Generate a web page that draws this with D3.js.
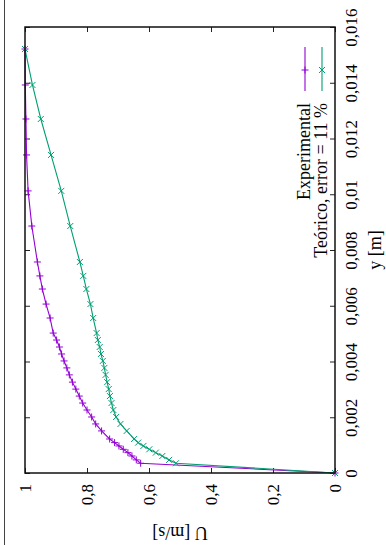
<!DOCTYPE html>
<html><head><meta charset="utf-8">
<script src="https://cdn.jsdelivr.net/npm/d3@7"></script>
<style>html,body{margin:0;padding:0;background:#fff;}svg{display:block;}</style>
</head><body>
<svg id="c" width="386" height="545"></svg>
<script>
// Data (y in metres, U in m/s)
const yVals = [0.01521,0.01392,0.01270,0.01141,0.01012,0.00886,0.00757,0.00707,0.00660,0.00606,0.00556,0.00502,
  0.00477,0.00452,0.00427,0.00402,0.00377,0.00352,0.00326,0.00301,0.00276,0.00251,0.00226,0.00201,0.00176,0.00151,
  0.00122,0.00109,0.00097,0.00085,0.00073,0.00061,0.00047,0.00035,0];
const uExp = [1.0,0.999,0.997,0.995,0.990,0.978,0.960,0.952,0.944,0.932,0.919,0.909,
  0.898,0.889,0.882,0.874,0.865,0.857,0.847,0.836,0.825,0.814,0.800,0.785,0.772,0.753,
  0.727,0.711,0.697,0.683,0.668,0.655,0.641,0.627,0];
const uTeo = [1.0,0.976,0.949,0.916,0.883,0.854,0.823,0.812,0.802,0.789,0.780,0.769,
  0.765,0.759,0.755,0.749,0.744,0.740,0.735,0.730,0.726,0.721,0.715,0.706,0.692,0.672,
  0.648,0.635,0.618,0.599,0.578,0.557,0.535,0.513,0];
const uTicks = [0,0.2,0.4,0.6,0.8,1];
const yTicks = [0,0.002,0.004,0.006,0.008,0.010,0.012,0.014,0.016];
const seriesNames = ["Experimental","Teórico, error = 11 %"];
const colors = ["#9400d3","#009e73"];

const svg = d3.select("#c");
const font = "'Liberation Serif','Times New Roman',serif";
const L=25,R=335,T=27,B=473;
const xU = d3.scaleLinear().domain([0,1]).range([R,L]);
const yY = d3.scaleLinear().domain([0,0.016]).range([B,T]);
const loc = d3.formatLocale({decimal:",",thousands:".",grouping:[3],currency:["",""]});
const fmt = v => v===0 ? "0" : loc.format("~g")(+v.toFixed(4));

// page edge line
svg.append("line").attr("x1",4.5).attr("x2",4.5).attr("y1",0).attr("y2",545)
  .attr("stroke","#444").attr("stroke-width",1);

// axes
function styleAxis(g){ g.select(".domain").remove(); g.selectAll(".tick line").attr("stroke","#222").attr("stroke-width",1); }
const gb = svg.append("g").attr("transform",`translate(0,${B})`)
  .call(d3.axisBottom(xU).tickValues(uTicks).tickSizeInner(-5).tickSizeOuter(0).tickFormat(fmt));
styleAxis(gb);
gb.selectAll(".tick text").attr("transform","rotate(-90)").attr("x",-11).attr("y",0).attr("dy","0.35em")
  .attr("text-anchor","end").attr("font-family",font).attr("font-size",17).attr("fill","#000");
const gt = svg.append("g").attr("transform",`translate(0,${T})`)
  .call(d3.axisTop(xU).tickValues(uTicks).tickSizeInner(-5).tickSizeOuter(0).tickFormat(""));
styleAxis(gt);
const gr = svg.append("g").attr("transform",`translate(${R},0)`)
  .call(d3.axisRight(yY).tickValues(yTicks).tickSizeInner(-5).tickSizeOuter(0).tickFormat(fmt));
styleAxis(gr);
gr.selectAll(".tick text").attr("transform","rotate(-90)").attr("x",0).attr("y",22).attr("dy",0)
  .attr("text-anchor","middle").attr("font-family",font).attr("font-size",17).attr("fill","#000");
const gl = svg.append("g").attr("transform",`translate(${L},0)`)
  .call(d3.axisLeft(yY).tickValues(yTicks).tickSizeInner(-5).tickSizeOuter(0).tickFormat(""));
styleAxis(gl);

// series
const plus = "M-3.5,0H3.5M0,-3.5V3.5";
const cross = "M-3,-3L3,3M-3,3L3,-3";
const series = [uExp,uTeo];
const markers = [plus,cross];
series.forEach((vals,i)=>{
  const pts = yVals.map((y,j)=>[vals[j],y]);
  const line = d3.line().x(d=>xU(d[0])).y(d=>yY(d[1]));
  svg.append("path").datum(pts).attr("d",line).attr("fill","none")
    .attr("stroke",colors[i]).attr("stroke-width",1.1);
  svg.append("g").selectAll("path").data(pts).join("path")
    .attr("transform",d=>`translate(${xU(d[0])},${yY(d[1])})`)
    .attr("d",markers[i]).attr("fill","none").attr("stroke",colors[i]).attr("stroke-width",1);
});

// border
svg.append("rect").attr("x",L).attr("y",T).attr("width",R-L).attr("height",B-T)
  .attr("fill","none").attr("stroke","#111").attr("stroke-width",1.5);

// legend
const legX = [305,322];
seriesNames.forEach((n,i)=>{
  svg.append("line").attr("x1",legX[i]).attr("x2",legX[i]).attr("y1",47).attr("y2",91)
    .attr("stroke",colors[i]).attr("stroke-width",1.1);
  svg.append("path").attr("transform",`translate(${legX[i]},70)`).attr("d",markers[i])
    .attr("fill","none").attr("stroke",colors[i]).attr("stroke-width",1);
  svg.append("text").attr("transform",`translate(${legX[i]+5},103) rotate(-90)`)
    .attr("text-anchor","end").attr("font-family",font).attr("font-size",18).text(n);
});

// axis titles
svg.append("text").attr("transform","translate(381,250) rotate(-90)").attr("text-anchor","middle")
  .attr("font-family",font).attr("font-size",18).text("y [m]");
svg.append("text").attr("transform","translate(180,527) rotate(180)").attr("text-anchor","middle")
  .attr("font-family",font).attr("font-size",18).text("U [m/s]");
</script>
</body></html>
